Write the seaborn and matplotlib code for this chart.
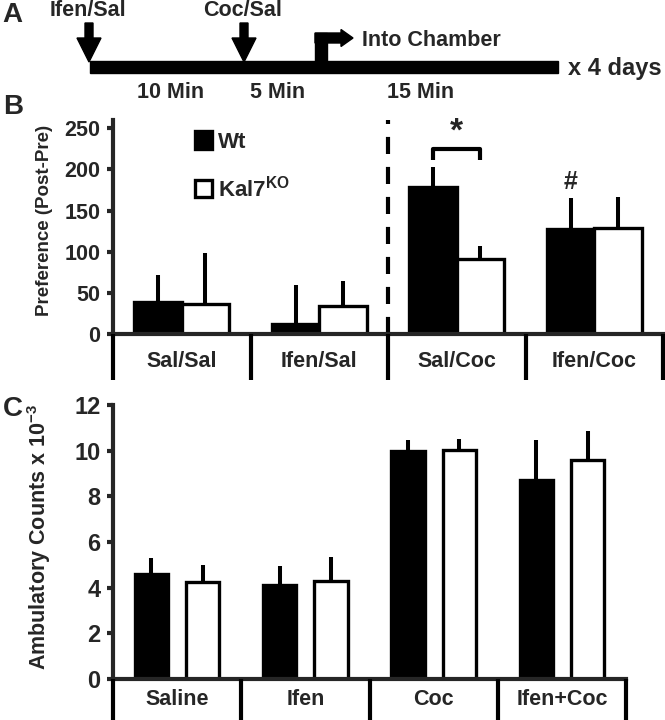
import numpy as np
import pandas as pd
import matplotlib
matplotlib.use("Agg")
import matplotlib.pyplot as plt
from matplotlib.patches import FancyArrow, Rectangle
import seaborn as sns

# Panel B: place preference (Post-Pre)
pref_groups = ["Sal/Sal", "Ifen/Sal", "Sal/Coc", "Ifen/Coc"]
pref_wt = [39, 12, 179, 128]
pref_wt_err = [33, 47, 24, 37]
pref_ko = [36, 34, 91, 129]
pref_ko_err = [62, 31, 16, 38]

# Panel C: ambulatory counts x 10^-3
amb_groups = ["Saline", "Ifen", "Coc", "Ifen+Coc"]
amb_wt = [4.6, 4.1, 10.0, 8.7]
amb_wt_err = [0.7, 0.85, 0.45, 1.75]
amb_ko = [4.25, 4.3, 10.05, 9.6]
amb_ko_err = [0.73, 1.05, 0.45, 1.25]

genotypes = ["Wt", "Kal7$^{\\mathrm{KO}}$"]

sns.set_style("ticks")
plt.rcParams["font.family"] = ["Liberation Sans", "DejaVu Sans"]
plt.rcParams["font.weight"] = "bold"
plt.rcParams["mathtext.fontset"] = "custom"
plt.rcParams["mathtext.rm"] = "Liberation Sans:bold"
plt.rcParams["mathtext.bf"] = "Liberation Sans:bold"

W, H = 665, 720
fig = plt.figure(figsize=(W / 100, H / 100), dpi=100)


def px_axes(x0, y0, x1, y1):
    return fig.add_axes([x0 / W, 1 - y1 / H, (x1 - x0) / W, (y1 - y0) / H])


def make_df(groups, wt, ko):
    return pd.DataFrame({
        "group": groups * 2,
        "value": wt + ko,
        "genotype": [genotypes[0]] * len(groups) + [genotypes[1]] * len(groups),
    })


def bars(ax, df, errs, width, gap, lw):
    sns.barplot(data=df, x="group", y="value", hue="genotype", hue_order=genotypes,
                palette={genotypes[0]: "black", genotypes[1]: "white"},
                edgecolor="black", linewidth=lw, width=width, gap=gap,
                errorbar=None, ax=ax, zorder=2)
    for cont, err in zip(ax.containers, errs):
        xs = [b.get_x() + b.get_width() / 2 for b in cont]
        ys = [b.get_height() for b in cont]
        ax.errorbar(xs, ys, yerr=[np.zeros(len(err)), err], fmt="none",
                    ecolor="black", elinewidth=2.9, capsize=0, zorder=1)


def style_axis(ax, tick_size):
    sns.despine(ax=ax)
    ax.spines["left"].set_linewidth(3)
    ax.spines["bottom"].set_linewidth(3)
    ax.set_xlim(-0.5, 3.5)
    ax.set_xticks([])
    ax.set_xlabel("")
    ax.tick_params(axis="y", direction="out", length=4, width=3, pad=5,
                   labelsize=tick_size)
    for t in ax.get_yticklabels():
        t.set_fontweight("bold")


def category_box(ax, labels, label_y, size):
    ax.set_xlim(-0.5, 3.5)
    ax.set_ylim(1, 0)
    ax.axis("off")
    ax.vlines(np.arange(-0.5, 4, 1), 0, 1, color="black", lw=3, clip_on=False)
    for i, lab in enumerate(labels):
        ax.text(i, label_y, lab, ha="center", va="center", fontsize=size,
                fontweight="bold")


# ---- Panel A: timeline schematic
ax_a = px_axes(0, 0, W, 100)
ax_a.set_xlim(0, W)
ax_a.set_ylim(100, 0)
ax_a.axis("off")
ax_a.add_patch(Rectangle((90, 61), 468, 12, color="black"))
for xa, lab in [(89, "Ifen/Sal"), (244, "Coc/Sal")]:
    ax_a.add_patch(FancyArrow(xa, 23, 0, 39, width=8, head_width=24, head_length=24,
                              length_includes_head=True, color="black"))
    ax_a.text(xa - 1, 11, lab, ha="center", va="center", fontsize=15.5, fontweight="bold")
ax_a.add_patch(Rectangle((315, 33), 12, 29, color="black"))
ax_a.add_patch(FancyArrow(315, 38, 38, 0, width=10, head_width=17, head_length=12,
                          length_includes_head=True, color="black"))
ax_a.text(362, 40, "Into Chamber", ha="left", va="center", fontsize=15.5, fontweight="bold")
ax_a.text(568, 69, "x 4 days", ha="left", va="center", fontsize=17, fontweight="bold")
ax_a.text(171, 92, "10 Min", ha="center", va="center", fontsize=15.5, fontweight="bold")
ax_a.text(278, 92, "5 Min", ha="center", va="center", fontsize=15.5, fontweight="bold")
ax_a.text(421, 92, "15 Min", ha="center", va="center", fontsize=15.5, fontweight="bold")
fig.text(2 / W, 1 - 15 / H, "A", fontsize=20, fontweight="bold", va="center")

# ---- Panel B
ax_b = px_axes(113, 120, 663, 334)
bars(ax_b, make_df(pref_groups, pref_wt, pref_ko), [pref_wt_err, pref_ko_err],
     width=0.69, gap=0, lw=2.4)
ax_b.set_ylim(0, 260)
ax_b.set_yticks([0, 50, 100, 150, 200, 250])
style_axis(ax_b, 15.5)
ax_b.set_ylabel("Preference (Post-Pre)", fontsize=13.5, fontweight="bold")
ax_b.yaxis.set_label_coords(-0.11, 0.53)
ax_b.axvline(1.5, color="black", lw=3, ls=(0, (4.1, 3.1)), zorder=0)
handles, labels = ax_b.get_legend_handles_labels()
ax_b.legend(handles, labels, loc="upper left", bbox_to_anchor=(0.112, 1.04),
            frameon=False, handlelength=0.8, handleheight=0.85, handletextpad=0.25,
            labelspacing=1.0, prop={"weight": "bold", "size": 16})
# significance markers
x0, x1 = 2 - 0.1725, 2 + 0.1725
ax_b.plot([x0, x0, x1, x1], [211, 225, 225, 211], color="black", lw=3,
          solid_joinstyle="round", solid_capstyle="butt", zorder=3)
ax_b.text(2, 226, "*", ha="center", va="bottom", fontsize=24, fontweight="bold")
ax_b.text(3 - 0.1725, 170, "#", ha="center", va="bottom", fontsize=18, fontweight="bold")
fig.text(3 / W, 1 - 107 / H, "B", fontsize=20, fontweight="bold", va="center")

ax_bb = px_axes(113, 334, 663, 380)
category_box(ax_bb, pref_groups, 0.6, 15.5)

# ---- Panel C
ax_c = px_axes(113, 405, 626, 679)
bars(ax_c, make_df(amb_groups, amb_wt, amb_ko), [amb_wt_err, amb_ko_err],
     width=0.8, gap=0.35, lw=2.4)
ax_c.set_ylim(0, 12)
ax_c.set_yticks(range(0, 13, 2))
style_axis(ax_c, 17)
ax_c.set_ylabel("Ambulatory Counts x 10$^{-3}$", fontsize=15.5, fontweight="bold")
ax_c.yaxis.set_label_coords(-0.117, 0.52)
if ax_c.get_legend() is not None:
    ax_c.get_legend().remove()
fig.text(3 / W, 1 - 409 / H, "C", fontsize=20, fontweight="bold", va="center")

ax_cb = px_axes(113, 679, 626, 722)
category_box(ax_cb, amb_groups, 0.47, 15.5)

fig.savefig("out.png", dpi=100)
